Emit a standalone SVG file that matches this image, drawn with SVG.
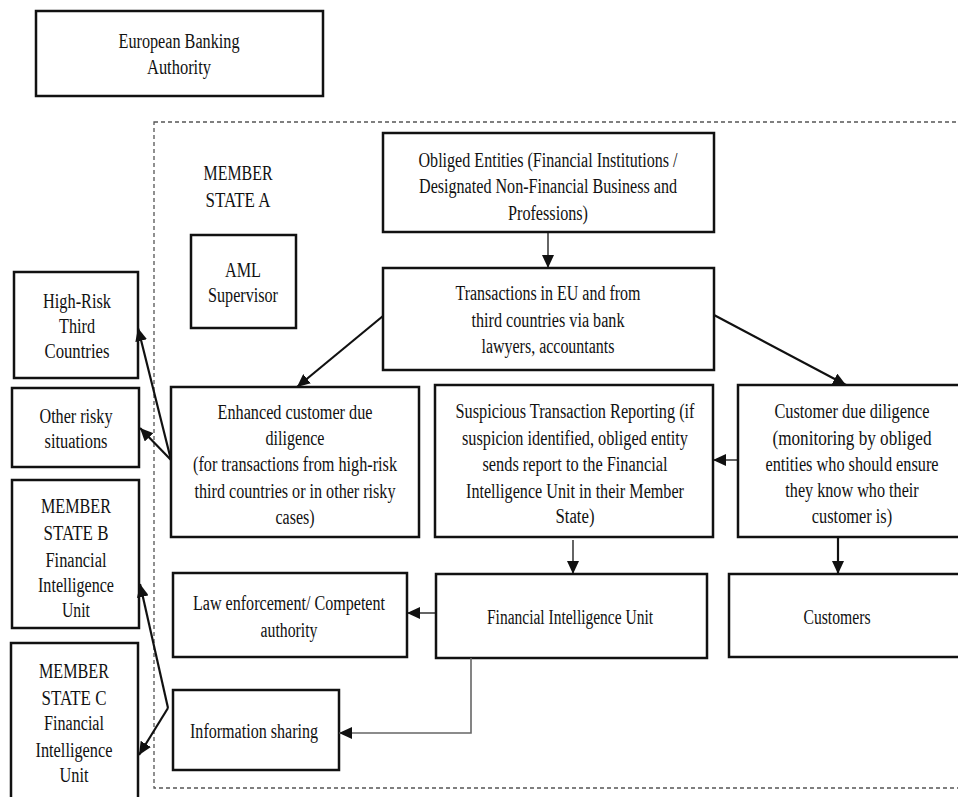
<svg xmlns="http://www.w3.org/2000/svg" width="958" height="797" viewBox="0 0 958 797">
<style>
.box{fill:#fff;stroke:#111;stroke-width:2.5}
text{font-family:"Liberation Serif","Times New Roman",serif;font-size:20px;fill:#111;text-anchor:middle}
.thin{stroke:#111;stroke-width:1.3;fill:none}
.thick{stroke:#111;stroke-width:2.2;fill:none}
.gray{stroke:#666;stroke-width:1.6;fill:none}
</style>
<defs>
<marker id="ah" markerUnits="userSpaceOnUse" markerWidth="13" markerHeight="12" refX="13" refY="6" orient="auto">
<path d="M0,0 L13,6 L0,12 z" fill="#111"/>
</marker>
</defs>
<rect x="0" y="0" width="958" height="797" fill="#fff" stroke="none"/>
<rect id="memberA-border" x="154" y="122" width="830" height="666" fill="none" stroke="#555" stroke-width="1.3" stroke-dasharray="4 3"/>

<g id="eba"><rect class="box" x="36" y="11" width="287" height="85"/>
<text x="179" y="48" textLength="121" lengthAdjust="spacingAndGlyphs">European Banking</text>
<text x="179" y="74" textLength="64" lengthAdjust="spacingAndGlyphs">Authority</text></g>

<g id="member-state-a">
<text x="238" y="180" textLength="69" lengthAdjust="spacingAndGlyphs">MEMBER</text>
<text x="238" y="207" textLength="65" lengthAdjust="spacingAndGlyphs">STATE A</text></g>

<g id="aml"><rect class="box" x="191" y="235" width="105" height="93"/>
<text x="243" y="277" textLength="36" lengthAdjust="spacingAndGlyphs">AML</text>
<text x="243" y="302" textLength="70" lengthAdjust="spacingAndGlyphs">Supervisor</text></g>

<g id="obliged"><rect class="box" x="383" y="133" width="331" height="99"/>
<text x="548" y="167" textLength="259" lengthAdjust="spacingAndGlyphs">Obliged Entities (Financial Institutions /</text>
<text x="548" y="193" textLength="258" lengthAdjust="spacingAndGlyphs">Designated Non-Financial Business and</text>
<text x="548" y="220" textLength="80" lengthAdjust="spacingAndGlyphs">Professions)</text></g>

<g id="transactions"><rect class="box" x="383" y="268" width="331" height="102"/>
<text x="548" y="300" textLength="185" lengthAdjust="spacingAndGlyphs">Transactions in EU and from</text>
<text x="548" y="327" textLength="153" lengthAdjust="spacingAndGlyphs">third countries via bank</text>
<text x="548" y="353" textLength="133" lengthAdjust="spacingAndGlyphs">lawyers, accountants</text></g>

<g id="enhanced"><rect class="box" x="171" y="387" width="248" height="150"/>
<text x="295" y="419" textLength="155" lengthAdjust="spacingAndGlyphs">Enhanced customer due</text>
<text x="295" y="445" textLength="59" lengthAdjust="spacingAndGlyphs">diligence</text>
<text x="295" y="471" textLength="204" lengthAdjust="spacingAndGlyphs">(for transactions from high-risk</text>
<text x="295" y="498" textLength="201" lengthAdjust="spacingAndGlyphs">third countries or in other risky</text>
<text x="295" y="524" textLength="39" lengthAdjust="spacingAndGlyphs">cases)</text></g>

<g id="str"><rect class="box" x="435" y="385" width="278" height="152"/>
<text x="575" y="418" textLength="239" lengthAdjust="spacingAndGlyphs">Suspicious Transaction Reporting (if</text>
<text x="575" y="445" textLength="226" lengthAdjust="spacingAndGlyphs">suspicion identified, obliged entity</text>
<text x="575" y="471" textLength="185" lengthAdjust="spacingAndGlyphs">sends report to the Financial</text>
<text x="575" y="498" textLength="218" lengthAdjust="spacingAndGlyphs">Intelligence Unit in their Member</text>
<text x="575" y="523" textLength="39" lengthAdjust="spacingAndGlyphs">State)</text></g>

<g id="cdd"><rect class="box" x="738" y="385" width="240" height="152"/>
<g transform="translate(852,0) scale(0.78,1)">
<text x="0" y="418" textLength="199" lengthAdjust="spacingAndGlyphs">Customer due diligence</text>
<text x="0" y="445" textLength="204" lengthAdjust="spacingAndGlyphs">(monitoring by obliged</text>
<text x="0" y="471" textLength="222" lengthAdjust="spacingAndGlyphs">entities who should ensure</text>
<text x="0" y="497" textLength="171" lengthAdjust="spacingAndGlyphs">they know who their</text>
<text x="0" y="523" textLength="103" lengthAdjust="spacingAndGlyphs">customer is)</text>
</g></g>

<g id="law"><rect class="box" x="173" y="573" width="234" height="84"/>
<text x="289" y="610" textLength="192" lengthAdjust="spacingAndGlyphs">Law enforcement/ Competent</text>
<text x="289" y="637" textLength="57" lengthAdjust="spacingAndGlyphs">authority</text></g>

<g id="fiu"><rect class="box" x="436" y="574" width="271" height="84"/>
<text x="570" y="624" textLength="166" lengthAdjust="spacingAndGlyphs">Financial Intelligence Unit</text></g>

<g id="customers"><rect class="box" x="729" y="574" width="250" height="83"/>
<g transform="translate(837,0) scale(0.78,1)">
<text x="0" y="624" textLength="86" lengthAdjust="spacingAndGlyphs">Customers</text>
</g></g>

<g id="info-sharing"><rect class="box" x="173" y="690" width="166" height="80"/>
<text x="254" y="738" textLength="128" lengthAdjust="spacingAndGlyphs">Information sharing</text></g>

<g id="high-risk"><rect class="box" x="14" y="272" width="124" height="106"/>
<text x="77" y="308" textLength="68" lengthAdjust="spacingAndGlyphs">High-Risk</text>
<text x="77" y="333" textLength="36" lengthAdjust="spacingAndGlyphs">Third</text>
<text x="77" y="358" textLength="65" lengthAdjust="spacingAndGlyphs">Countries</text></g>

<g id="other-risky"><rect class="box" x="12" y="388" width="127" height="79"/>
<text x="76" y="423" textLength="73" lengthAdjust="spacingAndGlyphs">Other risky</text>
<text x="76" y="448" textLength="63" lengthAdjust="spacingAndGlyphs">situations</text></g>

<g id="member-b"><rect class="box" x="12" y="480" width="127" height="148"/>
<text x="76" y="513" textLength="70" lengthAdjust="spacingAndGlyphs">MEMBER</text>
<text x="76" y="540" textLength="65" lengthAdjust="spacingAndGlyphs">STATE B</text>
<text x="76" y="567" textLength="61" lengthAdjust="spacingAndGlyphs">Financial</text>
<text x="76" y="592" textLength="76" lengthAdjust="spacingAndGlyphs">Intelligence</text>
<text x="76" y="617" textLength="28" lengthAdjust="spacingAndGlyphs">Unit</text></g>

<g id="member-c"><rect class="box" x="11" y="643" width="127" height="170"/>
<text x="74" y="678" textLength="70" lengthAdjust="spacingAndGlyphs">MEMBER</text>
<text x="74" y="705" textLength="65" lengthAdjust="spacingAndGlyphs">STATE C</text>
<text x="74" y="730" textLength="60" lengthAdjust="spacingAndGlyphs">Financial</text>
<text x="74" y="757" textLength="77" lengthAdjust="spacingAndGlyphs">Intelligence</text>
<text x="74" y="782" textLength="29" lengthAdjust="spacingAndGlyphs">Unit</text></g>

<g id="connectors">
<line class="thin" x1="548" y1="232" x2="548" y2="268" marker-end="url(#ah)"/>
<line class="thick" x1="383" y1="316" x2="297" y2="387" marker-end="url(#ah)"/>
<line class="thick" x1="714" y1="315" x2="846" y2="385" marker-end="url(#ah)"/>
<line class="thin" x1="738" y1="460" x2="713" y2="460" marker-end="url(#ah)"/>
<line class="thin" x1="573" y1="540" x2="573" y2="574" marker-end="url(#ah)"/>
<line class="thick" x1="838" y1="537" x2="838" y2="574" marker-end="url(#ah)"/>
<line class="thin" x1="436" y1="613" x2="407" y2="613" marker-end="url(#ah)"/>
<polyline class="gray" points="471,658 471,733 339,733" marker-end="url(#ah)"/>
<line class="thick" x1="171" y1="460" x2="138" y2="328" marker-end="url(#ah)"/>
<line class="thick" x1="171" y1="460" x2="140" y2="428" marker-end="url(#ah)"/>
<line class="thick" x1="168" y1="708" x2="140" y2="584" marker-end="url(#ah)"/>
<line class="thick" x1="168" y1="708" x2="139" y2="755" marker-end="url(#ah)"/>
</g>
</svg>
